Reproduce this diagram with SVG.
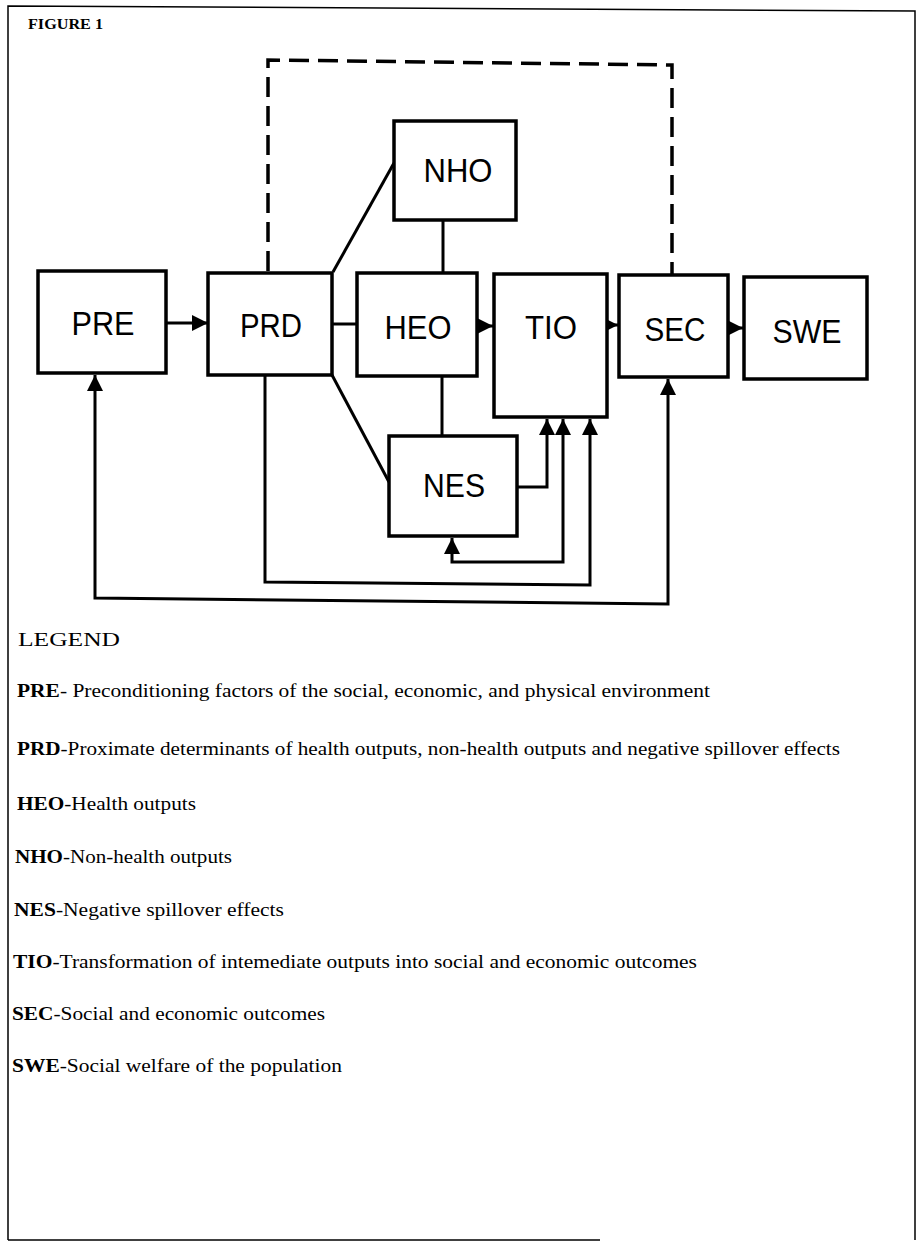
<svg xmlns="http://www.w3.org/2000/svg" width="923" height="1247" viewBox="0 0 923 1247">
<style>
.box{fill:#fff;stroke:#000;stroke-width:3.5}
.lbl{font-family:"Liberation Sans",Arial,sans-serif;font-size:34px;text-anchor:middle;fill:#000}
.ln{fill:none;stroke:#000;stroke-width:3}
.dash{fill:none;stroke:#000;stroke-width:3.5;stroke-dasharray:20 9}
.frame{fill:none;stroke:#000;stroke-width:1.5}
.leg{font-family:"Liberation Serif","Times New Roman",serif;font-size:18px;fill:#000}
.leg tspan.b{font-weight:bold}
</style>
<defs>
<marker id="ah" viewBox="0 0 16 16" refX="16" refY="8" markerWidth="16" markerHeight="16" markerUnits="userSpaceOnUse" orient="auto-start-reverse">
<path d="M0,0 L16,8 L0,16 z" fill="#000"/>
</marker>
</defs>
<rect width="923" height="1247" fill="#fff"/>
<g id="frame">
<path class="frame" d="M8,1240 L8,6 L915,11 L915,1240"/>
<path class="frame" d="M8,1240 L600,1240"/>
<text x="28" y="29" font-family="Liberation Serif,serif" font-weight="bold" font-size="15" textLength="75" lengthAdjust="spacingAndGlyphs">FIGURE 1</text>
</g>
<g id="connectors">
<path class="dash" d="M268,271 L268,60 L672,65 L672,275"/>
<line class="ln" x1="166" y1="323" x2="208" y2="323" marker-end="url(#ah)"/>
<line class="ln" x1="332" y1="324" x2="357" y2="324"/>
<line class="ln" x1="333" y1="272" x2="394" y2="163"/>
<line class="ln" x1="332" y1="375" x2="389" y2="482"/>
<line class="ln" x1="443" y1="220" x2="443" y2="273"/>
<line class="ln" x1="442" y1="376" x2="442" y2="436"/>
<line class="ln" x1="477" y1="326" x2="493" y2="326" marker-end="url(#ah)"/>
<line class="ln" x1="607" y1="325" x2="618" y2="325" marker-end="url(#ah)"/>
<line class="ln" x1="728" y1="328" x2="743" y2="328" marker-end="url(#ah)"/>
<path class="ln" d="M517,487 L547,487 L547,419" marker-end="url(#ah)"/>
<path class="ln" d="M563,419 L563,562 L452,562 L452,538" marker-start="url(#ah)" marker-end="url(#ah)"/>
<path class="ln" d="M265,375 L265,582 L590,585 L590,419" marker-end="url(#ah)"/>
<path class="ln" d="M668,379 L668,604 L95,598 L95,375" marker-start="url(#ah)" marker-end="url(#ah)"/>
</g>
<g id="PRE"><rect class="box" x="38" y="271" width="128" height="102"/><text class="lbl" x="103" y="335" textLength="63" lengthAdjust="spacingAndGlyphs">PRE</text></g>
<g id="PRD"><rect class="box" x="208" y="273" width="124" height="102"/><text class="lbl" x="271" y="337" textLength="62" lengthAdjust="spacingAndGlyphs">PRD</text></g>
<g id="NHO"><rect class="box" x="394" y="121" width="122" height="99"/><text class="lbl" x="458" y="182" textLength="69" lengthAdjust="spacingAndGlyphs">NHO</text></g>
<g id="HEO"><rect class="box" x="357" y="273" width="120" height="103"/><text class="lbl" x="418" y="339" textLength="67" lengthAdjust="spacingAndGlyphs">HEO</text></g>
<g id="NES"><rect class="box" x="389" y="436" width="128" height="100"/><text class="lbl" x="454" y="497" textLength="62" lengthAdjust="spacingAndGlyphs">NES</text></g>
<g id="TIO"><rect class="box" x="494" y="274" width="113" height="143"/><text class="lbl" x="551" y="339" textLength="52" lengthAdjust="spacingAndGlyphs">TIO</text></g>
<g id="SEC"><rect class="box" x="619" y="275" width="109" height="102"/><text class="lbl" x="675" y="341" textLength="61" lengthAdjust="spacingAndGlyphs">SEC</text></g>
<g id="SWE"><rect class="box" x="744" y="277" width="123" height="102"/><text class="lbl" x="807" y="343" textLength="69" lengthAdjust="spacingAndGlyphs">SWE</text></g>
<g id="legend">
<text class="leg" x="18" y="646" font-size="23" textLength="102" lengthAdjust="spacingAndGlyphs">LEGEND</text>
<text class="leg" x="17" y="697" textLength="693" lengthAdjust="spacingAndGlyphs"><tspan class="b">PRE</tspan>- Preconditioning factors of the social, economic, and physical environment</text>
<text class="leg" x="17" y="755" textLength="823" lengthAdjust="spacingAndGlyphs"><tspan class="b">PRD</tspan>-Proximate determinants of health outputs, non-health outputs and negative spillover effects</text>
<text class="leg" x="17" y="810" textLength="179" lengthAdjust="spacingAndGlyphs"><tspan class="b">HEO</tspan>-Health outputs</text>
<text class="leg" x="15" y="863" textLength="217" lengthAdjust="spacingAndGlyphs"><tspan class="b">NHO</tspan>-Non-health outputs</text>
<text class="leg" x="14" y="916" textLength="270" lengthAdjust="spacingAndGlyphs"><tspan class="b">NES</tspan>-Negative spillover effects</text>
<text class="leg" x="13" y="968" textLength="684" lengthAdjust="spacingAndGlyphs"><tspan class="b">TIO</tspan>-Transformation of intemediate outputs into social and economic outcomes</text>
<text class="leg" x="12" y="1020" textLength="313" lengthAdjust="spacingAndGlyphs"><tspan class="b">SEC</tspan>-Social and economic outcomes</text>
<text class="leg" x="12" y="1072" textLength="330" lengthAdjust="spacingAndGlyphs"><tspan class="b">SWE</tspan>-Social welfare of the population</text>
</g>
</svg>
